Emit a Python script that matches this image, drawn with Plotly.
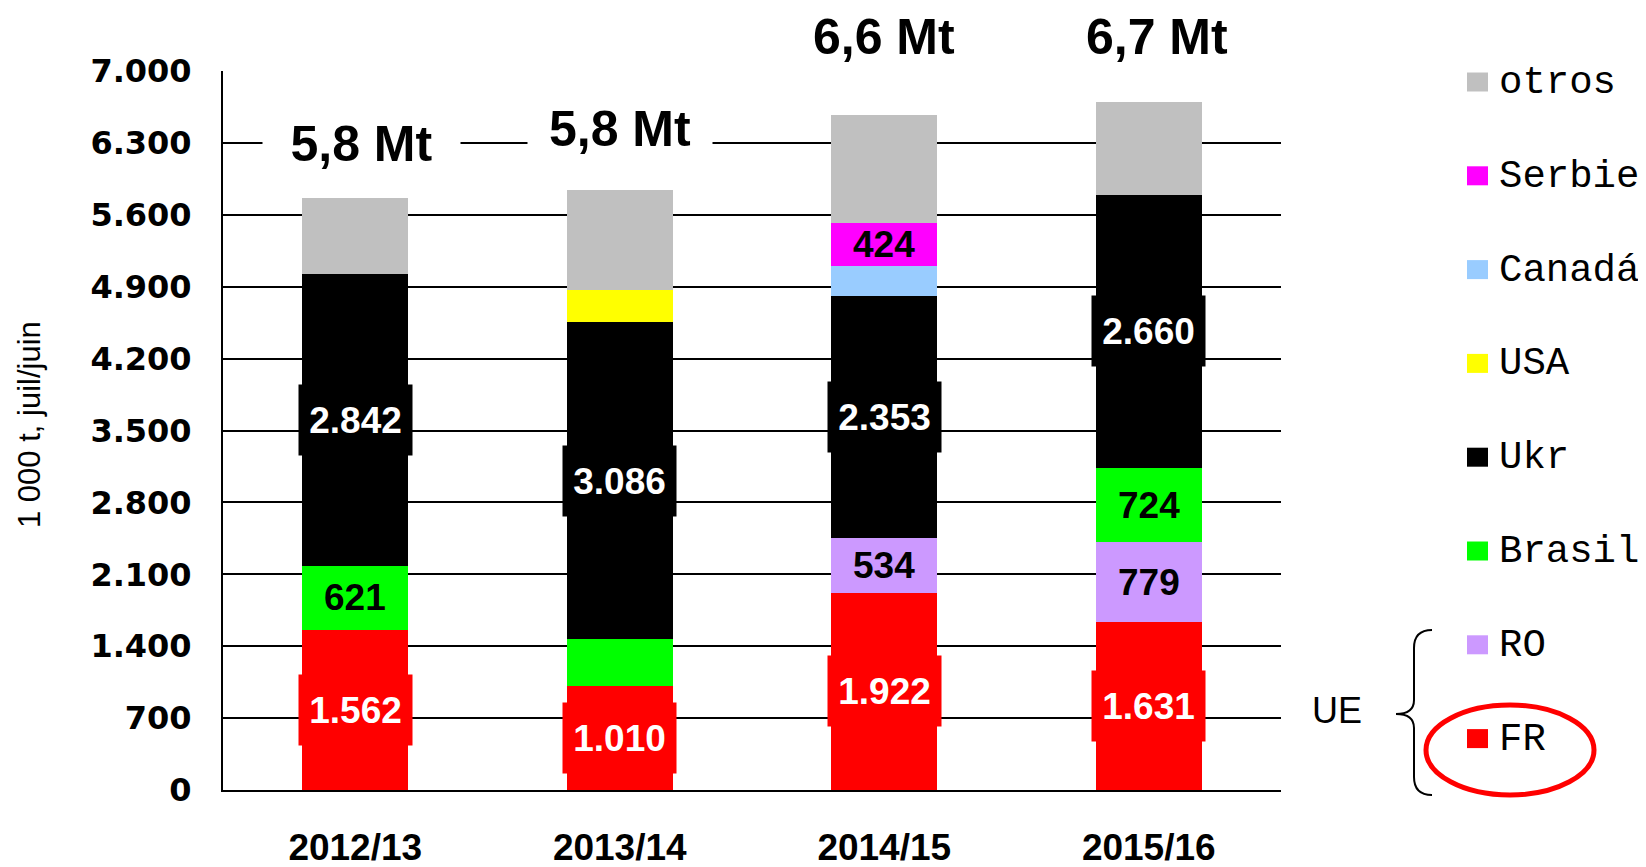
import plotly.graph_objects as go

# ---------------- data ----------------
years = ["2012/13", "2013/14", "2014/15", "2015/16"]
fr = [1562, 1010, 1922, 1631]
ro = [None, None, 534, 779]
brasil = [621, 460, None, 724]
ukr = [2842, 3086, 2353, 2660]
usa = [None, 315, None, None]
canada = [None, None, 290, None]
serbie = [None, None, 424, None]
otros = [740, 970, 1050, 905]
total_labels = ["5,8 Mt", "5,8 Mt", "6,6 Mt", "6,7 Mt"]
y_ticks = [0, 700, 1400, 2100, 2800, 3500, 4200, 4900, 5600, 6300, 7000]
y_title = "1 000 t, juil/juin"
group_label = "UE"

# series in stacking order: name, values, colour, label style
series = [
    ("FR", fr, "#FF0000", "box"),
    ("RO", ro, "#CC99FF", "plain"),
    ("Brasil", brasil, "#00FF00", "plain"),
    ("Ukr", ukr, "#000000", "box"),
    ("USA", usa, "#FFFF00", None),
    ("Canadá", canada, "#99CCFF", None),
    ("Serbie", serbie, "#FF00FF", "plain"),
    ("otros", otros, "#C0C0C0", None),
]
hidden_labels = {("Brasil", "2013/14")}

# ---------------- layout geometry (window pixels) ----------------
WIN_W, WIN_H = 1646, 867
BODY = 8  # default page margin around the plot div
L, R, T, B = 223, 1281, 71, 790


def px(x):
    return (x - L) / (R - L)


def py(y):
    return (B - y) / (B - T)


SANS = "Liberation Sans, Arial, sans-serif"
MONO = "Liberation Mono, Courier New, monospace"


def fmt(v):
    return f"{v:,}".replace(",", ".")


fig = go.Figure()
for name, vals, color, _ in series:
    fig.add_trace(go.Bar(
        x=years, y=vals, name=name, marker=dict(color=color, line=dict(width=0)),
        width=0.4, showlegend=False,
        hovertemplate="%{x}<br>" + name + ": %{y:,}<extra></extra>",
    ))

annotations = []
# segment labels
base = [0] * len(years)
for name, vals, color, style in series:
    for i, yr in enumerate(years):
        v = vals[i]
        if v is None:
            continue
        mid = base[i] + v / 2
        if style and (name, yr) not in hidden_labels:
            if style == "box":
                annotations.append(dict(
                    x=yr, y=mid, xref="x", yref="y", text=fmt(v), showarrow=False,
                    xanchor="center", yanchor="middle",
                    font=dict(family=SANS, size=37, color="white", weight="bold"),
                    bgcolor=color, width=113, height=70, borderpad=0,
                ))
            else:
                annotations.append(dict(
                    x=yr, y=mid, xref="x", yref="y", text=fmt(v), showarrow=False,
                    xanchor="center", yanchor="middle",
                    font=dict(family=SANS, size=37, color="black", weight="bold"),
                ))
        base[i] += v

# total labels (positions are style, not data): window y, x shift, box width
total_pos = [(144, 6, 197), (129, 0, 184), (37, 0, 150), (37, 8, 150)]
for yr, lab, (yy, xs, w) in zip(years, total_labels, total_pos):
    annotations.append(dict(
        x=yr, y=py(yy), xref="x", yref="paper", xshift=xs, text=lab, showarrow=False,
        xanchor="center", yanchor="middle",
        font=dict(family=SANS, size=50, color="black", weight="bold"),
        bgcolor="white", width=w, height=54, borderpad=0,
    ))

# y axis title
annotations.append(dict(
    x=px(29), y=py(425), xref="paper", yref="paper", text=y_title, textangle=-90,
    xanchor="center", yanchor="middle",
    showarrow=False, font=dict(family=SANS, size=31, color="black"),
))

# manual legend (top to bottom = reverse stacking order)
shapes = []
legend_items = list(reversed(series))
for k, (name, vals, color, _) in enumerate(legend_items):
    cy = 82 + k * 93.8
    shapes.append(dict(
        type="rect", xref="paper", yref="paper",
        x0=px(1467), x1=px(1488), y0=py(cy - 9.5), y1=py(cy + 9.5),
        fillcolor=color, line=dict(width=0),
    ))
    annotations.append(dict(
        x=px(1497), y=py(cy + 1), xref="paper", yref="paper", text=name,
        showarrow=False, xanchor="left", yanchor="middle",
        font=dict(family=MONO, size=39, color="black"),
    ))

# brace and "UE"
brace = (
    f"M {px(1432)},{py(630)} Q {px(1414)},{py(630)} {px(1414)},{py(648)} "
    f"L {px(1414)},{py(700)} Q {px(1414)},{py(714)} {px(1396)},{py(714)} "
    f"Q {px(1414)},{py(714)} {px(1414)},{py(728)} "
    f"L {px(1414)},{py(777)} Q {px(1414)},{py(795)} {px(1432)},{py(795)}"
)
shapes.append(dict(type="path", xref="paper", yref="paper", path=brace,
                   line=dict(color="black", width=2)))
annotations.append(dict(
    x=px(1337), y=py(710), xref="paper", yref="paper", text=group_label,
    xanchor="center", yanchor="middle",
    showarrow=False, font=dict(family=SANS, size=36, color="black"),
))
# red ellipse around FR
shapes.append(dict(type="circle", xref="paper", yref="paper",
                   x0=px(1426), x1=px(1594), y0=py(795), y1=py(705),
                   line=dict(color="#FF0000", width=5)))

fig.update_layout(
    width=WIN_W - BODY, height=WIN_H - BODY, barmode="stack", separators=",.",
    margin=dict(l=L - BODY, r=WIN_W - R, t=T - BODY, b=WIN_H - B, autoexpand=False),
    paper_bgcolor="white", plot_bgcolor="white",
    showlegend=False,
    annotations=annotations, shapes=shapes,
    xaxis=dict(
        type="category", range=[-0.5, 3.5], showgrid=False, ticks="",
        showline=True, linecolor="black", linewidth=2,
        tickfont=dict(family=SANS, size=37, color="black", weight="bold"),
        ticklabelstandoff=24,
    ),
    yaxis=dict(
        range=[0, 7000], tickvals=y_ticks, tickformat=",.0f",
        showgrid=True, gridcolor="black", gridwidth=2, zeroline=False,
        showline=True, linecolor="black", linewidth=2, ticks="",
        tickfont=dict(family="DejaVu Sans, sans-serif", size=32, color="black",
                      weight="bold"),
        ticklabelstandoff=23,
    ),
)

fig.write_html("out.html")
